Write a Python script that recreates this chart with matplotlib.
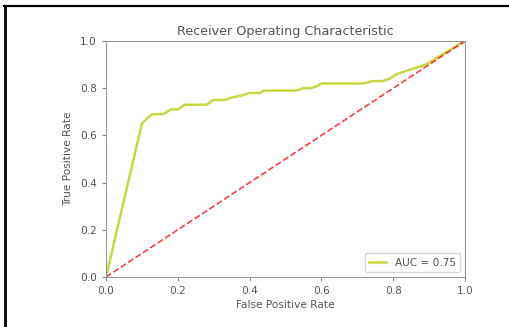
import matplotlib
matplotlib.use("Agg")
import matplotlib.pyplot as plt
from matplotlib.lines import Line2D

# ROC curve
fpr = [0.0, 0.10, 0.12, 0.13, 0.16, 0.17, 0.18, 0.20, 0.22, 0.28, 0.29, 0.30,
       0.33, 0.35, 0.38, 0.40, 0.43, 0.44, 0.53, 0.55, 0.57, 0.59, 0.60, 0.72,
       0.74, 0.77, 0.79, 0.80, 0.81, 0.83, 0.85, 0.87, 0.89, 1.0]
tpr = [0.0, 0.65, 0.68, 0.69, 0.69, 0.70, 0.71, 0.71, 0.73, 0.73, 0.74, 0.75,
       0.75, 0.76, 0.77, 0.78, 0.78, 0.79, 0.79, 0.80, 0.80, 0.81, 0.82, 0.82,
       0.83, 0.83, 0.84, 0.85, 0.86, 0.87, 0.88, 0.89, 0.90, 1.0]
roc_auc = 0.75

txt = "#555555"
plt.rcParams["font.size"] = 7.6

fig = plt.figure(figsize=(5.09, 3.27), dpi=100)
ax = fig.add_axes([106 / 509, 1 - 277 / 327, 359 / 509, 236 / 327])

ax.plot(fpr, tpr, color="#c8d640", lw=1.8, label="AUC = %0.2f" % roc_auc)
ax.plot([0, 1], [0, 1], "r--", lw=1.2, alpha=0.75)
ax.legend(loc="lower right", fontsize=7.6, labelcolor=txt, handlelength=1.6)
ax.set_xlim([0, 1])
ax.set_ylim([0, 1])
ax.set_title("Receiver Operating Characteristic", fontsize=9.2, color=txt, pad=4)
ax.set_xlabel("False Positive Rate", color=txt, labelpad=3)
ax.set_ylabel("True Positive Rate", color=txt, labelpad=5)
ax.tick_params(colors="#888888", labelcolor=txt, length=3)
for s in ax.spines.values():
    s.set_color("#999999")

# black lines along the left and top edge of the picture
fig.lines.append(Line2D([5 / 509, 5 / 509], [0, 1 - 5.5 / 327],
                        transform=fig.transFigure, color="black", lw=2))
fig.lines.append(Line2D([4 / 509, 1], [1 - 5.5 / 327, 1 - 5.5 / 327],
                        transform=fig.transFigure, color="black", lw=1.6))

fig.savefig("out.png", dpi=100)
